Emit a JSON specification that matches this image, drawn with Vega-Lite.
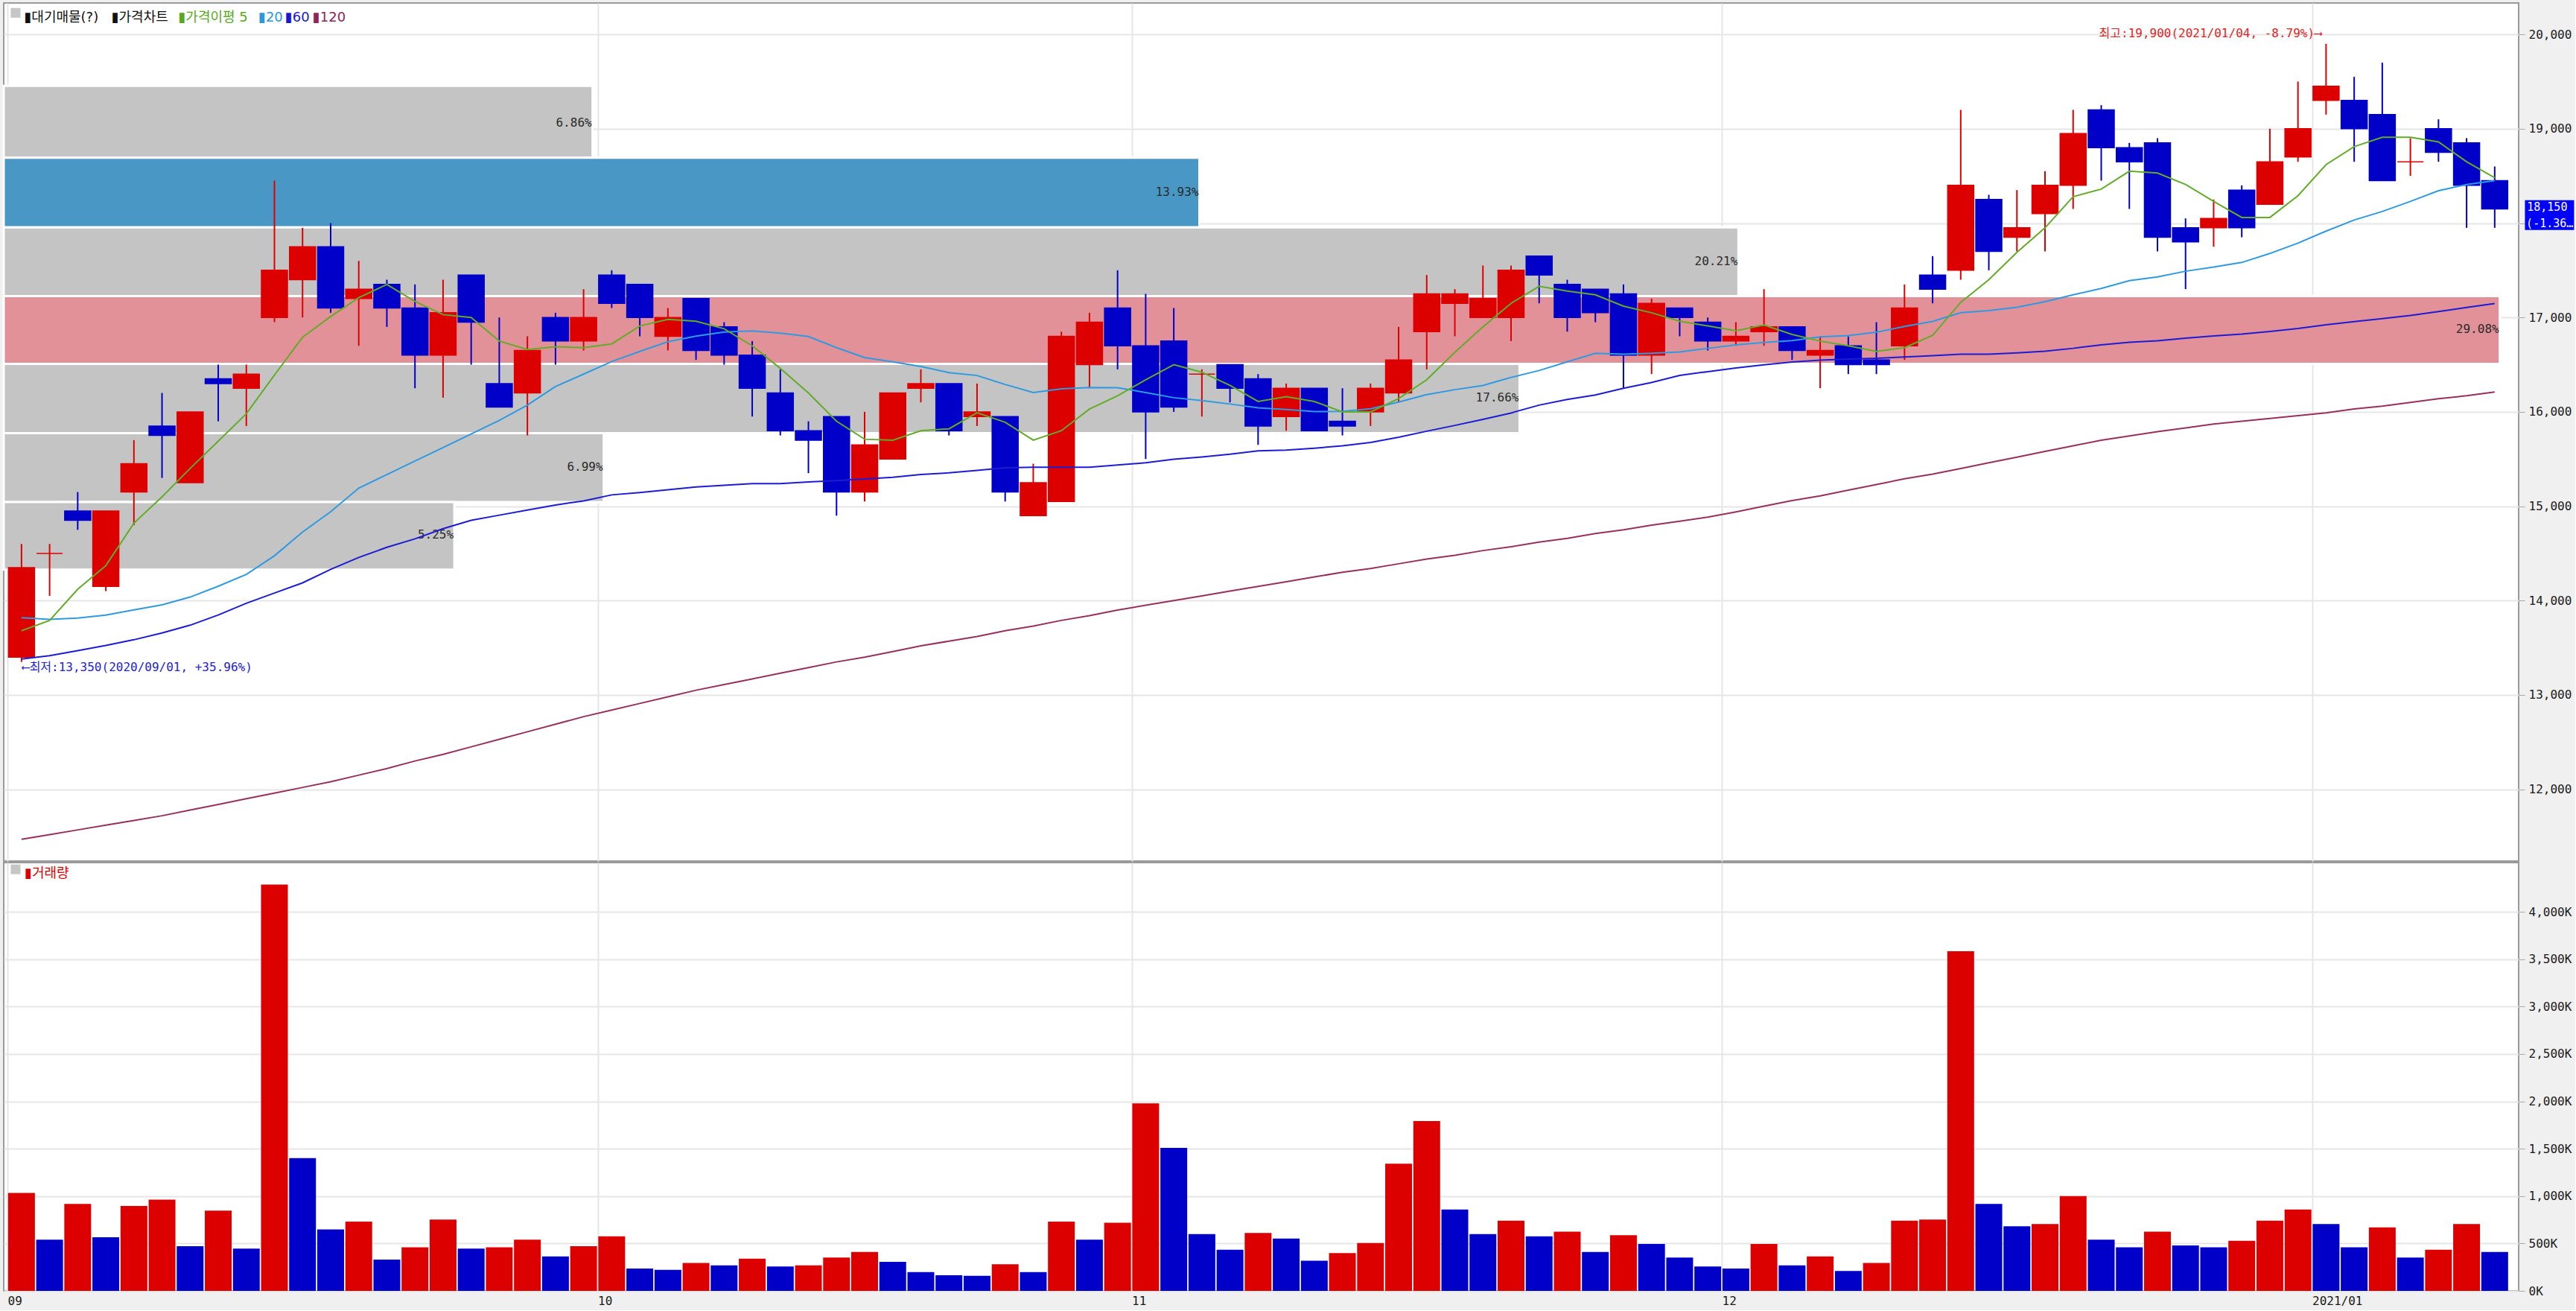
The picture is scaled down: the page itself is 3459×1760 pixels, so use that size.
{
  "$schema": "https://vega.github.io/schema/vega-lite/v6.json",
  "background": "#f0f0f0",
  "padding": {"left": 2, "top": 3, "right": 0, "bottom": 4},
  "spacing": 0,
  "config": {
    "view": {"stroke": "#9a9a9a", "strokeWidth": 2, "fill": "#ffffff"},
    "axis": {"labelFont": "DejaVu Sans Mono", "labelFontSize": 16, "labelColor": "#1a1a1a", "gridColor": "#e6e6e6", "gridWidth": 2, "tickColor": "#a8a8a8", "domain": false, "title": null}
  },
  "datasets": {
    "bands": [
      {"lo": 18692, "hi": 19455, "share": 0.0686, "zone": "other"},
      {"lo": 17955, "hi": 18692, "share": 0.1393, "zone": "current"},
      {"lo": 17226, "hi": 17955, "share": 0.2021, "zone": "other"},
      {"lo": 16508, "hi": 17226, "share": 0.2908, "zone": "peak"},
      {"lo": 15775, "hi": 16508, "share": 0.1766, "zone": "other"},
      {"lo": 15045, "hi": 15775, "share": 0.0699, "zone": "other"},
      {"lo": 14327, "hi": 15045, "share": 0.0525, "zone": "other"}
    ],
    "k": [
      {"i":0,"date":"2020-09-01","open":13400,"high":14600,"low":13350,"close":14350,"volume":1034,"ma5":13680,"ma20":13818,"ma60":13380,"ma120":11470},
      {"i":1,"date":"2020-09-02","open":14500,"high":14600,"low":14050,"close":14500,"volume":541,"ma5":13790,"ma20":13800,"ma60":13416,"ma120":11520},
      {"i":2,"date":"2020-09-03","open":14950,"high":15150,"low":14750,"close":14850,"volume":917,"ma5":14120,"ma20":13815,"ma60":13470,"ma120":11570},
      {"i":3,"date":"2020-09-04","open":14150,"high":14950,"low":14100,"close":14950,"volume":566,"ma5":14370,"ma20":13847,"ma60":13524,"ma120":11620},
      {"i":4,"date":"2020-09-07","open":15150,"high":15700,"low":14800,"close":15450,"volume":896,"ma5":14820,"ma20":13901,"ma60":13585,"ma120":11670},
      {"i":5,"date":"2020-09-08","open":15850,"high":16200,"low":15300,"close":15750,"volume":963,"ma5":15100,"ma20":13955,"ma60":13657,"ma120":11720},
      {"i":6,"date":"2020-09-09","open":15250,"high":16000,"low":15250,"close":16000,"volume":471,"ma5":15400,"ma20":14037,"ma60":13739,"ma120":11780},
      {"i":7,"date":"2020-09-10","open":16350,"high":16500,"low":15900,"close":16300,"volume":847,"ma5":15690,"ma20":14152,"ma60":13847,"ma120":11840},
      {"i":8,"date":"2020-09-11","open":16250,"high":16500,"low":15850,"close":16400,"volume":446,"ma5":15980,"ma20":14277,"ma60":13972,"ma120":11900},
      {"i":9,"date":"2020-09-14","open":17000,"high":18450,"low":16950,"close":17500,"volume":4287,"ma5":16390,"ma20":14475,"ma60":14080,"ma120":11960},
      {"i":10,"date":"2020-09-15","open":17400,"high":17950,"low":17000,"close":17750,"volume":1401,"ma5":16790,"ma20":14726,"ma60":14188,"ma120":12020},
      {"i":11,"date":"2020-09-16","open":17750,"high":18000,"low":17050,"close":17100,"volume":648,"ma5":17010,"ma20":14941,"ma60":14331,"ma120":12080},
      {"i":12,"date":"2020-09-17","open":17200,"high":17600,"low":16700,"close":17300,"volume":731,"ma5":17210,"ma20":15192,"ma60":14457,"ma120":12150},
      {"i":13,"date":"2020-09-18","open":17350,"high":17400,"low":16900,"close":17100,"volume":330,"ma5":17350,"ma20":15335,"ma60":14564,"ma120":12220},
      {"i":14,"date":"2020-09-21","open":17100,"high":17350,"low":16250,"close":16600,"volume":459,"ma5":17170,"ma20":15479,"ma60":14654,"ma120":12300},
      {"i":15,"date":"2020-09-22","open":16600,"high":17400,"low":16150,"close":17050,"volume":752,"ma5":17030,"ma20":15622,"ma60":14762,"ma120":12370},
      {"i":16,"date":"2020-09-23","open":17450,"high":17450,"low":16500,"close":16950,"volume":446,"ma5":17000,"ma20":15766,"ma60":14851,"ma120":12450},
      {"i":17,"date":"2020-09-24","open":16300,"high":17000,"low":16050,"close":16050,"volume":459,"ma5":16750,"ma20":15909,"ma60":14905,"ma120":12530},
      {"i":18,"date":"2020-09-25","open":16200,"high":16800,"low":15750,"close":16650,"volume":541,"ma5":16660,"ma20":16071,"ma60":14959,"ma120":12610},
      {"i":19,"date":"2020-09-28","open":17000,"high":17050,"low":16500,"close":16750,"volume":364,"ma5":16690,"ma20":16268,"ma60":15013,"ma120":12690},
      {"i":20,"date":"2020-09-29","open":16750,"high":17300,"low":16650,"close":17000,"volume":471,"ma5":16680,"ma20":16400,"ma60":15056,"ma120":12770},
      {"i":21,"date":"2020-10-05","open":17450,"high":17500,"low":17100,"close":17150,"volume":575,"ma5":16720,"ma20":16533,"ma60":15120,"ma120":12840},
      {"i":22,"date":"2020-10-06","open":17350,"high":17350,"low":16800,"close":17000,"volume":235,"ma5":16910,"ma20":16640,"ma60":15145,"ma120":12910},
      {"i":23,"date":"2020-10-07","open":16800,"high":17100,"low":16650,"close":17000,"volume":223,"ma5":16980,"ma20":16743,"ma60":15174,"ma120":12980},
      {"i":24,"date":"2020-10-08","open":17200,"high":17200,"low":16550,"close":16650,"volume":294,"ma5":16960,"ma20":16803,"ma60":15203,"ma120":13050},
      {"i":25,"date":"2020-10-12","open":16900,"high":16950,"low":16500,"close":16600,"volume":269,"ma5":16880,"ma20":16845,"ma60":15221,"ma120":13110},
      {"i":26,"date":"2020-10-13","open":16600,"high":16750,"low":15950,"close":16250,"volume":339,"ma5":16700,"ma20":16858,"ma60":15239,"ma120":13170},
      {"i":27,"date":"2020-10-14","open":16200,"high":16450,"low":15750,"close":15800,"volume":257,"ma5":16460,"ma20":16833,"ma60":15239,"ma120":13230},
      {"i":28,"date":"2020-10-15","open":15800,"high":15900,"low":15350,"close":15700,"volume":269,"ma5":16200,"ma20":16798,"ma60":15257,"ma120":13290},
      {"i":29,"date":"2020-10-16","open":15950,"high":15950,"low":14900,"close":15150,"volume":352,"ma5":15900,"ma20":16680,"ma60":15271,"ma120":13350},
      {"i":30,"date":"2020-10-19","open":15150,"high":16000,"low":15050,"close":15650,"volume":410,"ma5":15710,"ma20":16575,"ma60":15289,"ma120":13400},
      {"i":31,"date":"2020-10-20","open":15500,"high":16200,"low":15500,"close":16200,"volume":306,"ma5":15700,"ma20":16530,"ma60":15307,"ma120":13460},
      {"i":32,"date":"2020-10-21","open":16250,"high":16450,"low":16100,"close":16300,"volume":199,"ma5":15800,"ma20":16480,"ma60":15336,"ma120":13520},
      {"i":33,"date":"2020-10-22","open":16300,"high":16300,"low":15750,"close":15800,"volume":165,"ma5":15820,"ma20":16415,"ma60":15353,"ma120":13570},
      {"i":34,"date":"2020-10-23","open":15950,"high":16300,"low":15850,"close":16000,"volume":160,"ma5":15990,"ma20":16385,"ma60":15379,"ma120":13620},
      {"i":35,"date":"2020-10-26","open":15950,"high":15950,"low":15050,"close":15150,"volume":281,"ma5":15890,"ma20":16290,"ma60":15407,"ma120":13680},
      {"i":36,"date":"2020-10-27","open":14900,"high":15450,"low":14900,"close":15250,"volume":199,"ma5":15700,"ma20":16205,"ma60":15414,"ma120":13730},
      {"i":37,"date":"2020-10-28","open":15050,"high":16850,"low":15050,"close":16800,"volume":731,"ma5":15800,"ma20":16243,"ma60":15414,"ma120":13790},
      {"i":38,"date":"2020-10-29","open":16500,"high":17050,"low":16250,"close":16950,"volume":541,"ma5":16030,"ma20":16258,"ma60":15414,"ma120":13840},
      {"i":39,"date":"2020-10-30","open":17100,"high":17500,"low":16450,"close":16700,"volume":719,"ma5":16170,"ma20":16255,"ma60":15436,"ma120":13900},
      {"i":40,"date":"2020-11-02","open":16700,"high":17250,"low":15500,"close":16000,"volume":1979,"ma5":16340,"ma20":16205,"ma60":15461,"ma120":13950},
      {"i":41,"date":"2020-11-03","open":16750,"high":17100,"low":16000,"close":16050,"volume":1508,"ma5":16500,"ma20":16150,"ma60":15497,"ma120":14000},
      {"i":42,"date":"2020-11-04","open":16400,"high":16450,"low":15950,"close":16400,"volume":599,"ma5":16420,"ma20":16120,"ma60":15522,"ma120":14050},
      {"i":43,"date":"2020-11-05","open":16500,"high":16500,"low":16100,"close":16250,"volume":434,"ma5":16280,"ma20":16083,"ma60":15551,"ma120":14100},
      {"i":44,"date":"2020-11-06","open":16350,"high":16400,"low":15650,"close":15850,"volume":612,"ma5":16110,"ma20":16043,"ma60":15587,"ma120":14150},
      {"i":45,"date":"2020-11-09","open":15950,"high":16300,"low":15800,"close":16250,"volume":553,"ma5":16160,"ma20":16025,"ma60":15594,"ma120":14200},
      {"i":46,"date":"2020-11-10","open":16250,"high":16250,"low":15800,"close":15800,"volume":318,"ma5":16110,"ma20":16003,"ma60":15615,"ma120":14250},
      {"i":47,"date":"2020-11-11","open":15900,"high":16250,"low":15750,"close":15850,"volume":398,"ma5":16000,"ma20":16005,"ma60":15640,"ma120":14300},
      {"i":48,"date":"2020-11-12","open":16000,"high":16300,"low":15850,"close":16250,"volume":505,"ma5":16000,"ma20":16033,"ma60":15676,"ma120":14340},
      {"i":49,"date":"2020-11-13","open":16200,"high":16900,"low":16100,"close":16550,"volume":1342,"ma5":16140,"ma20":16103,"ma60":15730,"ma120":14390},
      {"i":50,"date":"2020-11-16","open":16850,"high":17450,"low":16450,"close":17250,"volume":1792,"ma5":16340,"ma20":16183,"ma60":15795,"ma120":14440},
      {"i":51,"date":"2020-11-17","open":17150,"high":17300,"low":16800,"close":17250,"volume":859,"ma5":16630,"ma20":16235,"ma60":15856,"ma120":14480},
      {"i":52,"date":"2020-11-18","open":17000,"high":17550,"low":17000,"close":17200,"volume":599,"ma5":16900,"ma20":16280,"ma60":15920,"ma120":14530},
      {"i":53,"date":"2020-11-19","open":17000,"high":17550,"low":16750,"close":17500,"volume":740,"ma5":17150,"ma20":16365,"ma60":15988,"ma120":14570},
      {"i":54,"date":"2020-11-20","open":17650,"high":17650,"low":17150,"close":17450,"volume":575,"ma5":17330,"ma20":16438,"ma60":16071,"ma120":14620},
      {"i":55,"date":"2020-11-23","open":17350,"high":17400,"low":16850,"close":17000,"volume":624,"ma5":17280,"ma20":16530,"ma60":16132,"ma120":14660},
      {"i":56,"date":"2020-11-24","open":17300,"high":17300,"low":16950,"close":17050,"volume":410,"ma5":17240,"ma20":16620,"ma60":16178,"ma120":14710},
      {"i":57,"date":"2020-11-25","open":17250,"high":17350,"low":16250,"close":16600,"volume":587,"ma5":17120,"ma20":16610,"ma60":16250,"ma120":14750},
      {"i":58,"date":"2020-11-26","open":16600,"high":17200,"low":16400,"close":17150,"volume":495,"ma5":17050,"ma20":16620,"ma60":16311,"ma120":14800},
      {"i":59,"date":"2020-11-27","open":17100,"high":17100,"low":16800,"close":17000,"volume":352,"ma5":16960,"ma20":16635,"ma60":16386,"ma120":14840},
      {"i":60,"date":"2020-11-30","open":16950,"high":17000,"low":16650,"close":16750,"volume":257,"ma5":16910,"ma20":16673,"ma60":16426,"ma120":14885},
      {"i":61,"date":"2020-12-01","open":16750,"high":16950,"low":16700,"close":16800,"volume":235,"ma5":16860,"ma20":16710,"ma60":16464,"ma120":14940},
      {"i":62,"date":"2020-12-02","open":16850,"high":17300,"low":16700,"close":16900,"volume":495,"ma5":16920,"ma20":16735,"ma60":16498,"ma120":15000},
      {"i":63,"date":"2020-12-03","open":16900,"high":16900,"low":16550,"close":16650,"volume":269,"ma5":16820,"ma20":16755,"ma60":16527,"ma120":15060},
      {"i":64,"date":"2020-12-04","open":16600,"high":16800,"low":16250,"close":16650,"volume":364,"ma5":16750,"ma20":16795,"ma60":16547,"ma120":15110},
      {"i":65,"date":"2020-12-07","open":16700,"high":16800,"low":16400,"close":16500,"volume":211,"ma5":16700,"ma20":16808,"ma60":16559,"ma120":15170},
      {"i":66,"date":"2020-12-08","open":16550,"high":16950,"low":16400,"close":16500,"volume":294,"ma5":16640,"ma20":16843,"ma60":16568,"ma120":15230},
      {"i":67,"date":"2020-12-09","open":16700,"high":17350,"low":16550,"close":17100,"volume":740,"ma5":16680,"ma20":16905,"ma60":16581,"ma120":15290},
      {"i":68,"date":"2020-12-10","open":17450,"high":17650,"low":17150,"close":17300,"volume":752,"ma5":16810,"ma20":16958,"ma60":16596,"ma120":15340},
      {"i":69,"date":"2020-12-11","open":17500,"high":19200,"low":17400,"close":18400,"volume":3584,"ma5":17160,"ma20":17050,"ma60":16611,"ma120":15400},
      {"i":70,"date":"2020-12-14","open":18250,"high":18300,"low":17500,"close":17700,"volume":917,"ma5":17400,"ma20":17073,"ma60":16610,"ma120":15460},
      {"i":71,"date":"2020-12-15","open":17850,"high":18350,"low":17700,"close":17950,"volume":682,"ma5":17690,"ma20":17108,"ma60":16624,"ma120":15520},
      {"i":72,"date":"2020-12-16","open":18100,"high":18550,"low":17700,"close":18400,"volume":706,"ma5":17950,"ma20":17168,"ma60":16643,"ma120":15580},
      {"i":73,"date":"2020-12-17","open":18400,"high":19200,"low":18150,"close":18950,"volume":1000,"ma5":18280,"ma20":17240,"ma60":16673,"ma120":15640},
      {"i":74,"date":"2020-12-18","open":19200,"high":19250,"low":18450,"close":18800,"volume":541,"ma5":18360,"ma20":17308,"ma60":16710,"ma120":15700},
      {"i":75,"date":"2020-12-21","open":18800,"high":18850,"low":18150,"close":18650,"volume":459,"ma5":18550,"ma20":17390,"ma60":16737,"ma120":15745},
      {"i":76,"date":"2020-12-22","open":18850,"high":18900,"low":17700,"close":17850,"volume":624,"ma5":18530,"ma20":17430,"ma60":16752,"ma120":15790},
      {"i":77,"date":"2020-12-23","open":17950,"high":18050,"low":17300,"close":17800,"volume":480,"ma5":18410,"ma20":17490,"ma60":16781,"ma120":15830},
      {"i":78,"date":"2020-12-24","open":17950,"high":18250,"low":17750,"close":18050,"volume":459,"ma5":18230,"ma20":17535,"ma60":16804,"ma120":15870},
      {"i":79,"date":"2020-12-28","open":18350,"high":18400,"low":17850,"close":17950,"volume":529,"ma5":18060,"ma20":17583,"ma60":16824,"ma120":15900},
      {"i":80,"date":"2020-12-29","open":18200,"high":19000,"low":18200,"close":18650,"volume":740,"ma5":18060,"ma20":17678,"ma60":16852,"ma120":15930},
      {"i":81,"date":"2020-12-30","open":18700,"high":19500,"low":18650,"close":19000,"volume":859,"ma5":18290,"ma20":17788,"ma60":16883,"ma120":15960},
      {"i":82,"date":"2021-01-04","open":19300,"high":19900,"low":19150,"close":19450,"volume":706,"ma5":18620,"ma20":17915,"ma60":16923,"ma120":15990},
      {"i":83,"date":"2021-01-05","open":19300,"high":19550,"low":18650,"close":19000,"volume":459,"ma5":18810,"ma20":18033,"ma60":16957,"ma120":16030},
      {"i":84,"date":"2021-01-06","open":19150,"high":19700,"low":18450,"close":18450,"volume":670,"ma5":18910,"ma20":18123,"ma60":16987,"ma120":16060},
      {"i":85,"date":"2021-01-07","open":18650,"high":18900,"low":18500,"close":18650,"volume":352,"ma5":18910,"ma20":18230,"ma60":17021,"ma120":16100},
      {"i":86,"date":"2021-01-08","open":19000,"high":19100,"low":18650,"close":18750,"volume":434,"ma5":18860,"ma20":18343,"ma60":17063,"ma120":16140},
      {"i":87,"date":"2021-01-11","open":18850,"high":18900,"low":17950,"close":18400,"volume":706,"ma5":18650,"ma20":18408,"ma60":17106,"ma120":16170},
      {"i":88,"date":"2021-01-12","open":18450,"high":18600,"low":17950,"close":18150,"volume":410,"ma5":18480,"ma20":18450,"ma60":17147,"ma120":16210}
    ]
  },
  "vconcat": [
    {
      "width": 3377,
      "height": 1152,
      "resolve": {"scale": {"x": "independent"}},
      "layer": [
        {
          "data": {"name": "bands"},
          "layer": [
            {
              "mark": {"type": "bar", "orient": "horizontal", "stroke": "#ffffff", "strokeWidth": 3},
              "encoding": {
                "x": {"field": "share", "type": "quantitative", "scale": {"domain": [0, 0.293], "nice": false, "zero": true}, "axis": null},
                "y": {"field": "lo", "type": "quantitative", "scale": {"domain": [11279, 20293], "nice": false, "zero": false}, "title": null,
                      "axis": {"orient": "right", "values": [12000, 13000, 14000, 15000, 16000, 17000, 18000, 19000, 20000], "labelExpr": "format(datum.value, ',')", "grid": true, "ticks": true, "tickSize": 8, "labelPadding": 5, "labelAlign": "left", "labelBaseline": "middle", "domain": false, "title": null}},
                "y2": {"field": "hi"},
                "fill": {"field": "zone", "type": "nominal", "scale": {"domain": ["other", "current", "peak"], "range": ["#c4c4c4", "#4897c4", "#e39198"]}, "legend": null}
              }
            },
            {
              "mark": {"type": "text", "align": "right", "baseline": "middle", "dx": -1, "dy": -47, "font": "DejaVu Sans Mono", "fontSize": 16, "color": "#2a2a2a"},
              "encoding": {
                "x": {"field": "share", "type": "quantitative", "scale": {"domain": [0, 0.293], "nice": false, "zero": true}, "axis": null},
                "y": {"field": "lo", "type": "quantitative", "scale": {"domain": [11279, 20293], "nice": false, "zero": false}, "title": null},
                "text": {"field": "share", "type": "quantitative", "format": ".2%"}
              }
            }
          ]
        },
        {
          "data": {"name": "k"},
          "layer": [
            {
              "mark": {"type": "rule", "strokeWidth": 2},
              "encoding": {
                "x": {"field": "i", "type": "quantitative", "scale": {"domain": [-0.5, 88.72], "nice": false, "zero": false}, "title": null,
                      "axis": {"orient": "bottom", "values": [-0.5, 20.5, 39.5, 60.5, 81.5], "labels": false, "ticks": false, "domain": false, "grid": true, "title": null}},
                "y": {"field": "low", "type": "quantitative", "scale": {"domain": [11279, 20293], "nice": false, "zero": false}, "title": null,
                      "axis": {"orient": "right", "values": [12000, 13000, 14000, 15000, 16000, 17000, 18000, 19000, 20000], "labelExpr": "format(datum.value, ',')", "grid": true, "ticks": true, "tickSize": 8, "labelPadding": 5, "labelAlign": "left", "labelBaseline": "middle", "domain": false, "title": null}},
                "y2": {"field": "high"},
                "color": {"condition": {"test": "datum.close >= datum.open", "value": "#dd0000"}, "value": "#0000c8"}
              }
            },
            {
              "mark": {"type": "bar", "size": 35, "orient": "vertical", "strokeWidth": 1.5},
              "encoding": {
                "x": {"field": "i", "type": "quantitative", "scale": {"domain": [-0.5, 88.72], "nice": false, "zero": false}, "title": null},
                "y": {"field": "open", "type": "quantitative", "scale": {"domain": [11279, 20293], "nice": false, "zero": false}, "title": null},
                "y2": {"field": "close"},
                "color": {"condition": {"test": "datum.close >= datum.open", "value": "#dd0000"}, "value": "#0000c8"},
                "stroke": {"condition": {"test": "datum.close >= datum.open", "value": "#dd0000"}, "value": "#0000c8"}
              }
            },
            {
              "transform": [{"fold": ["ma120", "ma60", "ma20", "ma5"], "as": ["ma", "val"]}],
              "mark": {"type": "line", "strokeWidth": 2},
              "encoding": {
                "x": {"field": "i", "type": "quantitative", "scale": {"domain": [-0.5, 88.72], "nice": false, "zero": false}, "title": null},
                "y": {"field": "val", "type": "quantitative", "scale": {"domain": [11279, 20293], "nice": false, "zero": false}, "title": null},
                "stroke": {"field": "ma", "type": "nominal", "scale": {"domain": ["ma5", "ma20", "ma60", "ma120"], "range": ["#62ac28", "#2e9ae2", "#1c1cd4", "#98305f"]}, "legend": null}
              }
            },
            {
              "data": {"values": [{}]},
              "mark": {"type": "point", "shape": "square", "size": 170, "filled": true, "color": "#c6c6c6", "opacity": 1},
              "encoding": {
                "x": {"datum": -0.21, "type": "quantitative", "scale": {"domain": [-0.5, 88.72], "nice": false, "zero": false}, "title": null},
                "y": {"datum": 20228, "type": "quantitative", "scale": {"domain": [11279, 20293], "nice": false, "zero": false}, "title": null}
              }
            },
            {
              "data": {"values": [{}]},
              "mark": {"type": "text", "text": "▮대기매물(?)", "align": "left", "baseline": "middle", "font": "DejaVu Sans, Noto Sans CJK KR", "fontSize": 18, "color": "#111111"},
              "encoding": {
                "x": {"datum": 0.095, "type": "quantitative", "scale": {"domain": [-0.5, 88.72], "nice": false, "zero": false}, "title": null},
                "y": {"datum": 20175, "type": "quantitative", "scale": {"domain": [11279, 20293], "nice": false, "zero": false}, "title": null}
              }
            },
            {
              "data": {"values": [{}]},
              "mark": {"type": "text", "text": "▮가격차트", "align": "left", "baseline": "middle", "font": "DejaVu Sans, Noto Sans CJK KR", "fontSize": 18, "color": "#111111"},
              "encoding": {
                "x": {"datum": 3.2, "type": "quantitative", "scale": {"domain": [-0.5, 88.72], "nice": false, "zero": false}, "title": null},
                "y": {"datum": 20175, "type": "quantitative", "scale": {"domain": [11279, 20293], "nice": false, "zero": false}, "title": null}
              }
            },
            {
              "data": {"values": [{}]},
              "mark": {"type": "text", "text": "▮가격이평 5", "align": "left", "baseline": "middle", "font": "DejaVu Sans, Noto Sans CJK KR", "fontSize": 18, "color": "#58a81e"},
              "encoding": {
                "x": {"datum": 5.58, "type": "quantitative", "scale": {"domain": [-0.5, 88.72], "nice": false, "zero": false}, "title": null},
                "y": {"datum": 20175, "type": "quantitative", "scale": {"domain": [11279, 20293], "nice": false, "zero": false}, "title": null}
              }
            },
            {
              "data": {"values": [{}]},
              "mark": {"type": "text", "text": "▮20", "align": "left", "baseline": "middle", "font": "DejaVu Sans, Noto Sans CJK KR", "fontSize": 18, "color": "#2a98e0"},
              "encoding": {
                "x": {"datum": 8.43, "type": "quantitative", "scale": {"domain": [-0.5, 88.72], "nice": false, "zero": false}, "title": null},
                "y": {"datum": 20175, "type": "quantitative", "scale": {"domain": [11279, 20293], "nice": false, "zero": false}, "title": null}
              }
            },
            {
              "data": {"values": [{}]},
              "mark": {"type": "text", "text": "▮60", "align": "left", "baseline": "middle", "font": "DejaVu Sans, Noto Sans CJK KR", "fontSize": 18, "color": "#1818d0"},
              "encoding": {
                "x": {"datum": 9.38, "type": "quantitative", "scale": {"domain": [-0.5, 88.72], "nice": false, "zero": false}, "title": null},
                "y": {"datum": 20175, "type": "quantitative", "scale": {"domain": [11279, 20293], "nice": false, "zero": false}, "title": null}
              }
            },
            {
              "data": {"values": [{}]},
              "mark": {"type": "text", "text": "▮120", "align": "left", "baseline": "middle", "font": "DejaVu Sans, Noto Sans CJK KR", "fontSize": 18, "color": "#8e2558"},
              "encoding": {
                "x": {"datum": 10.36, "type": "quantitative", "scale": {"domain": [-0.5, 88.72], "nice": false, "zero": false}, "title": null},
                "y": {"datum": 20175, "type": "quantitative", "scale": {"domain": [11279, 20293], "nice": false, "zero": false}, "title": null}
              }
            },
            {
              "data": {"values": [{}]},
              "mark": {"type": "text", "text": "최고:19,900(2021/01/04, -8.79%)⟶", "align": "right", "baseline": "middle", "font": "DejaVu Sans Mono, Noto Sans CJK KR", "fontSize": 16, "color": "#e41e1e"},
              "encoding": {
                "x": {"datum": 81.85, "type": "quantitative", "scale": {"domain": [-0.5, 88.72], "nice": false, "zero": false}, "title": null},
                "y": {"datum": 20005, "type": "quantitative", "scale": {"domain": [11279, 20293], "nice": false, "zero": false}, "title": null}
              }
            },
            {
              "data": {"values": [{}]},
              "mark": {"type": "text", "text": "⟵최저:13,350(2020/09/01, +35.96%)", "align": "left", "baseline": "middle", "font": "DejaVu Sans Mono, Noto Sans CJK KR", "fontSize": 16, "color": "#2222dd"},
              "encoding": {
                "x": {"datum": 0.03, "type": "quantitative", "scale": {"domain": [-0.5, 88.72], "nice": false, "zero": false}, "title": null},
                "y": {"datum": 13290, "type": "quantitative", "scale": {"domain": [11279, 20293], "nice": false, "zero": false}, "title": null}
              }
            },
            {
              "data": {"values": [{}]},
              "mark": {"type": "rect", "fill": "#0000ff", "width": 66, "height": 40},
              "encoding": {
                "x": {"datum": 89.95, "type": "quantitative", "scale": {"domain": [-0.5, 88.72], "nice": false, "zero": false}, "title": null},
                "y": {"datum": 18085, "type": "quantitative", "scale": {"domain": [11279, 20293], "nice": false, "zero": false}, "title": null}
              }
            },
            {
              "data": {"values": [{}]},
              "mark": {"type": "text", "text": "18,150", "align": "left", "baseline": "middle", "font": "DejaVu Sans Mono", "fontSize": 15, "color": "#ffffff"},
              "encoding": {
                "x": {"datum": 89.15, "type": "quantitative", "scale": {"domain": [-0.5, 88.72], "nice": false, "zero": false}, "title": null},
                "y": {"datum": 18168, "type": "quantitative", "scale": {"domain": [11279, 20293], "nice": false, "zero": false}, "title": null}
              }
            },
            {
              "data": {"values": [{}]},
              "mark": {"type": "text", "text": "(-1.36%)", "align": "left", "baseline": "middle", "font": "DejaVu Sans Mono", "fontSize": 15, "color": "#ffffff", "limit": 66, "ellipsis": ""},
              "encoding": {
                "x": {"datum": 89.12, "type": "quantitative", "scale": {"domain": [-0.5, 88.72], "nice": false, "zero": false}, "title": null},
                "y": {"datum": 17998, "type": "quantitative", "scale": {"domain": [11279, 20293], "nice": false, "zero": false}, "title": null}
              }
            }
          ]
        }
      ]
    },
    {
      "width": 3377,
      "height": 575,
      "layer": [
        {
          "data": {"name": "k"},
          "transform": [{"window": [{"op": "lag", "field": "volume", "as": "prev"}], "sort": [{"field": "i", "order": "ascending"}]}],
          "mark": {"type": "bar", "size": 36, "orient": "vertical"},
          "encoding": {
            "x": {"field": "i", "type": "quantitative", "scale": {"domain": [-0.5, 88.72], "nice": false, "zero": false}, "title": null,
                  "axis": {"orient": "bottom", "values": [-0.5, 20.5, 39.5, 60.5, 81.5], "labelExpr": "datum.value < 0 ? '09' : datum.value < 30 ? '10' : datum.value < 50 ? '11' : datum.value < 70 ? '12' : '2021/01'", "labelAlign": "left", "labelDx": 3, "labelPadding": 5, "labelFlush": false, "labelOverlap": false, "ticks": false, "domain": false, "grid": true, "title": null}},
            "y": {"field": "volume", "type": "quantitative", "scale": {"domain": [0, 4519], "nice": false}, "title": null,
                  "axis": {"orient": "right", "values": [0, 500, 1000, 1500, 2000, 2500, 3000, 3500, 4000], "labelExpr": "format(datum.value, ',') + 'K'", "grid": true, "ticks": true, "tickSize": 8, "labelPadding": 5, "labelAlign": "left", "labelBaseline": "middle", "domain": false, "title": null}},
            "color": {"condition": {"test": "datum.prev == null || datum.volume >= datum.prev", "value": "#dd0000"}, "value": "#0000c8"}
          }
        },
        {
          "data": {"values": [{}]},
          "mark": {"type": "point", "shape": "square", "size": 170, "filled": true, "color": "#c6c6c6", "opacity": 1},
          "encoding": {
            "x": {"datum": -0.21, "type": "quantitative", "scale": {"domain": [-0.5, 88.72], "nice": false, "zero": false}, "title": null},
            "y": {"datum": 4448, "type": "quantitative", "scale": {"domain": [0, 4519], "nice": false}, "title": null}
          }
        },
        {
          "data": {"values": [{}]},
          "mark": {"type": "text", "text": "▮거래량", "align": "left", "baseline": "middle", "font": "DejaVu Sans, Noto Sans CJK KR", "fontSize": 18, "color": "#dd0000"},
          "encoding": {
            "x": {"datum": 0.11, "type": "quantitative", "scale": {"domain": [-0.5, 88.72], "nice": false, "zero": false}, "title": null},
            "y": {"datum": 4400, "type": "quantitative", "scale": {"domain": [0, 4519], "nice": false}, "title": null}
          }
        }
      ]
    }
  ]
}
